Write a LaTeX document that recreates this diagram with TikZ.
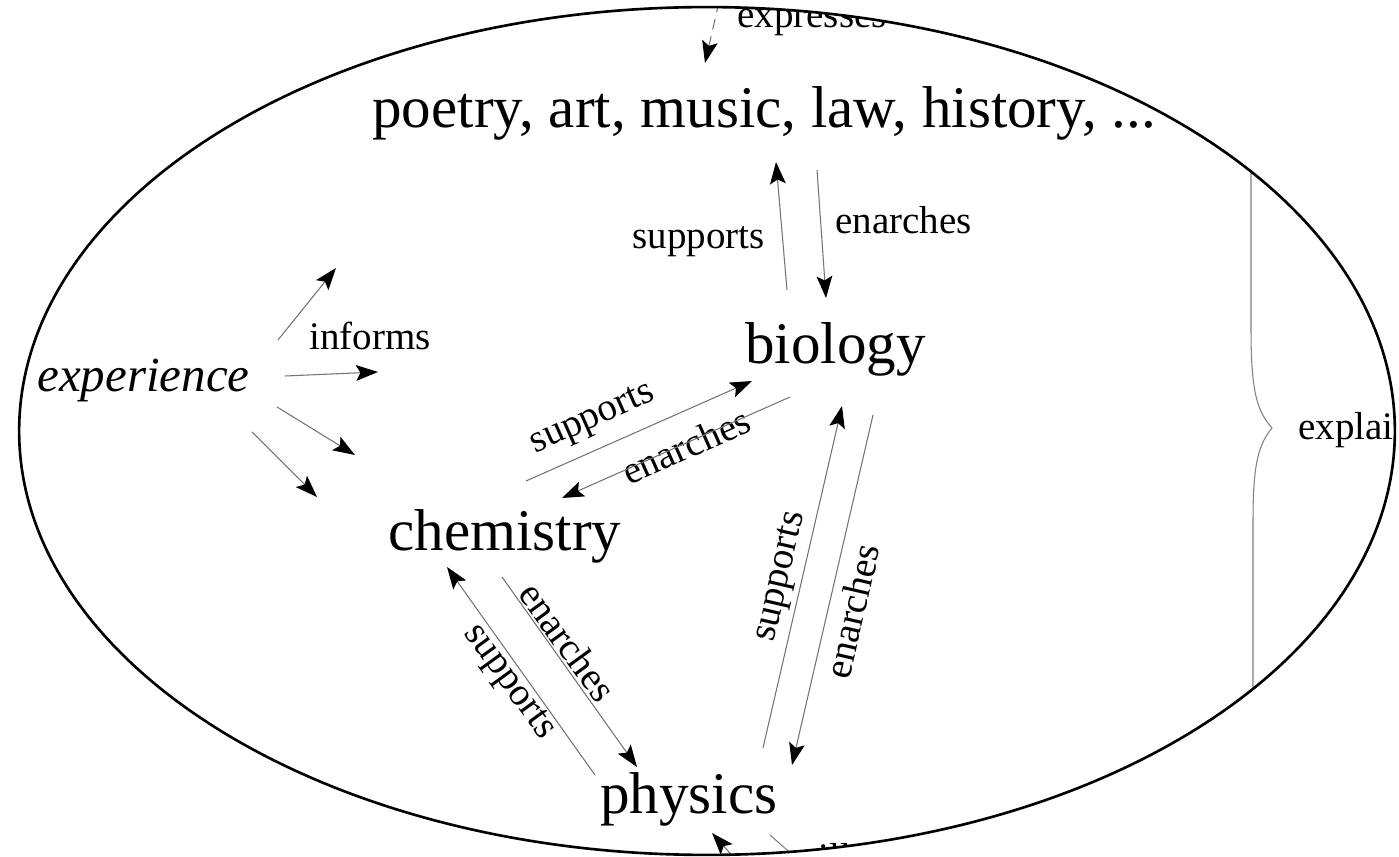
\documentclass[tikz,border=0pt]{standalone}
\usepackage{fontspec}
\setmainfont{Liberation Serif}
\usetikzlibrary{arrows.meta}
\begin{document}
\begin{tikzpicture}[x=0.02cm,y=-0.02cm,
  conn/.style={draw=black!55, line width=0.6pt, -{Stealth[black,length=12.5pt,width=9pt,inset=2.5pt]}},
  plainline/.style={draw=black!50, line width=0.6pt},
  bigtxt/.style={font=\fontsize{33.6}{38}\selectfont, inner sep=0pt, anchor=base west},
  labtxt/.style={font=\fontsize{22.2}{26}\selectfont, inner sep=0pt},
  labw/.style={labtxt, anchor=base west},
  exptxt/.style={font=\itshape\fontsize{27.9}{32}\selectfont, inner sep=0pt, anchor=base west},
  rim/.style={draw=black, line width=1.5pt}]
\useasboundingbox (0,0) rectangle (1399,857);
\begin{scope}
\clip (707,431) ellipse [x radius=13.76cm, y radius=8.48cm];
% main nodes
\node[bigtxt] (arts) at (372,128) {poetry, art, music, law, history, ...};
\node[bigtxt] (bio) at (745,364) {biology};
\node[bigtxt] (chem) at (388,551) {chemistry};
\node[bigtxt] (phys) at (600,813) {physics};
\node[exptxt] (exp) at (37,392) {experience};
% labels
\node[labw] (lexpr) at (737,28) {expresses};
\node[labw] (linf) at (309,350) {informs};
\node[labw] (lsup1) at (632,249) {supports};
\node[labw] (lenr1) at (835,234) {enarches};
\node[labtxt, rotate=24] (lsup2) at (593,420) {supports};
\node[labtxt, rotate=24] (lenr2) at (686,446) {enarches};
\node[labtxt, rotate=-54] (lenr3) at (568,642) {enarches};
\node[labtxt, rotate=-54] (lsup3) at (508,683) {supports};
\node[labtxt, rotate=77] (lsup4) at (782,577) {supports};
\node[labtxt, rotate=77] (lenr4) at (852,611) {enarches};
\node[labw] (lexpl) at (1298,440) {explai};
\node[labw] (lill) at (818,870) {ill};
% endpoints
\coordinate (d1) at (719,2);   \coordinate (d2) at (705,63);
\coordinate (v1a) at (787,290); \coordinate (v1b) at (776,162);
\coordinate (v2a) at (817,170); \coordinate (v2b) at (826,298);
\coordinate (e1a) at (278,340); \coordinate (e1b) at (336,268);
\coordinate (e2a) at (285,376); \coordinate (e2b) at (378,372);
\coordinate (e3a) at (277,407); \coordinate (e3b) at (355,455);
\coordinate (e4a) at (252,432); \coordinate (e4b) at (317,497);
\coordinate (cb1a) at (526,481); \coordinate (cb1b) at (752,381);
\coordinate (cb2a) at (790,397); \coordinate (cb2b) at (562,498);
\coordinate (cp1a) at (595,775); \coordinate (cp1b) at (447,567);
\coordinate (cp2a) at (502,577); \coordinate (cp2b) at (637,767);
\coordinate (bp1a) at (763,748); \coordinate (bp1b) at (842,406);
\coordinate (bp2a) at (873,415); \coordinate (bp2b) at (792,765);
\coordinate (b1a) at (745,870); \coordinate (b1b) at (712,833);
\coordinate (b2a) at (770,835); \coordinate (b2b) at (812,872);
% connectors
\draw[conn, dashed, dash pattern=on 6pt off 4pt] (d1) -- (d2);
\draw[conn] (v1a) -- (v1b);
\draw[conn] (v2a) -- (v2b);
\draw[conn] (e1a) -- (e1b);
\draw[conn] (e2a) -- (e2b);
\draw[conn] (e3a) -- (e3b);
\draw[conn] (e4a) -- (e4b);
\draw[conn] (cb1a) -- (cb1b);
\draw[conn] (cb2a) -- (cb2b);
\draw[conn] (cp1a) -- (cp1b);
\draw[conn] (cp2a) -- (cp2b);
\draw[conn] (bp1a) -- (bp1b);
\draw[conn] (bp2a) -- (bp2b);
\draw[conn] (b1a) -- (b1b);
\draw[plainline] (b2a) -- (b2b);
% brace
\draw[plainline] (1251,150) -- (1251,330) .. controls (1251,395) and (1258,412) .. (1272,428)
  .. controls (1259,444) and (1253,462) .. (1253,520) -- (1253,700);
\end{scope}
\draw[rim] (707,431) ellipse [x radius=13.76cm, y radius=8.48cm];
\end{tikzpicture}
\end{document}
